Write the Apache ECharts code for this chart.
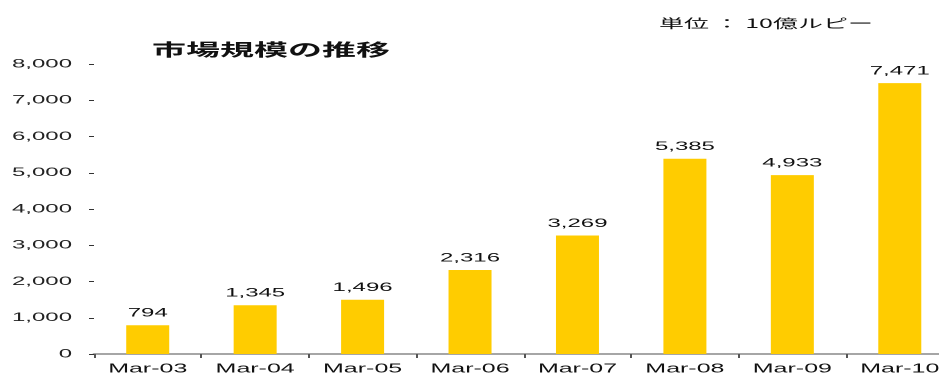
<!DOCTYPE html>
<html>
<head>
<meta charset="utf-8">
<script src="https://cdn.jsdelivr.net/npm/echarts@6/dist/echarts.min.js"></script>
<style>
  html, body { margin: 0; padding: 0; background: #fff; overflow: hidden; }
  /* the reference is stretched sideways, so the chart is drawn narrow and widened */
  #chart { width: 469.5px; height: 374px; transform: scaleX(2); transform-origin: left top; }
</style>
</head>
<body>
<div id="chart"></div>
<script>
const categories = ["Mar-03", "Mar-04", "Mar-05", "Mar-06", "Mar-07", "Mar-08", "Mar-09", "Mar-10"];
const marketSize = [794, 1345, 1496, 2316, 3269, 5385, 4933, 7471];
const titleText = "市場規模の推移";
const unitText = "単位 ： 10億ルピー";

const FONT = "'Liberation Sans', Arial, 'Noto Sans CJK JP', sans-serif";

const chart = echarts.init(document.getElementById("chart"), null, { devicePixelRatio: 2 });

chart.setOption({
  animation: false,
  title: [
    {
      text: titleText,
      left: 130.5,
      top: 36,
      textAlign: "center",
      textStyle: { fontFamily: "'Noto Sans CJK JP', sans-serif", fontSize: 17, fontWeight: "bold", color: "#111" },
    },
    {
      text: unitText,
      left: 324.5,
      top: 12,
      textStyle: { fontFamily: "'Noto Sans CJK JP', sans-serif", fontSize: 12.5, fontWeight: "normal", color: "#111" },
    },
  ],
  grid: {
    left: 47,
    width: 429.75,
    top: 64,
    bottom: 20,
    containLabel: false,
    outerBoundsMode: "none",
  },
  xAxis: {
    type: "category",
    data: categories,
    axisLine: { show: true, lineStyle: { color: "#888", width: 1.5 } },
    axisTick: { show: true, length: 4, lineStyle: { color: "#555" } },
    axisLabel: { fontFamily: FONT, fontSize: 12.5, color: "#111", margin: 9 },
  },
  yAxis: {
    type: "value",
    min: 0,
    max: 8000,
    interval: 1000,
    axisLine: { show: false },
    axisTick: { show: true, length: 2.5, lineStyle: { color: "#333" } },
    splitLine: { show: false },
    axisLabel: {
      fontFamily: FONT,
      fontSize: 12,
      color: "#222",
      margin: 11,
      formatter: (v) => v.toLocaleString("en-US"),
    },
  },
  series: [
    {
      type: "bar",
      data: marketSize,
      barWidth: 21.5,
      itemStyle: { color: "#FFCC00" },
      label: {
        show: true,
        position: "top",
        distance: 6,
        fontFamily: FONT,
        fontSize: 12,
        color: "#111",
        formatter: (p) => p.value.toLocaleString("en-US"),
      },
    },
  ],
});
</script>
</body>
</html>
